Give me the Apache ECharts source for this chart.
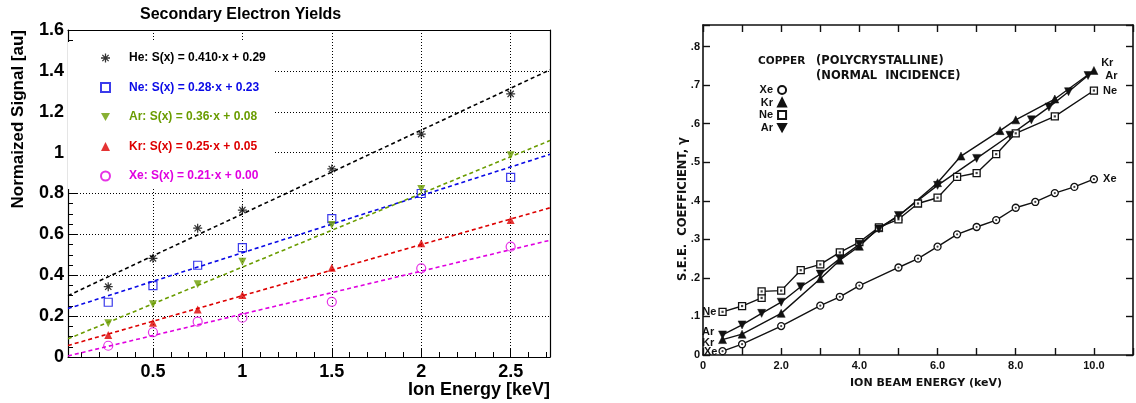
<!DOCTYPE html>
<html><head><meta charset="utf-8">
<script src="https://cdn.jsdelivr.net/npm/echarts@6/dist/echarts.min.js"></script>
<style>html,body{margin:0;padding:0;background:#fff}#c{width:1136px;height:403px}</style>
</head><body><div id="c"></div>
<script>
// ---------- Left panel data ----------
const gasNames = ['He', 'Ne', 'Ar', 'Kr', 'Xe'];
const fitText = [
  'He: S(x) = 0.410·x + 0.29',
  'Ne: S(x) = 0.28·x + 0.23',
  'Ar: S(x) = 0.36·x + 0.08',
  'Kr: S(x) = 0.25·x + 0.05',
  'Xe: S(x) = 0.21·x + 0.00'
];
const fitSlope = [0.410, 0.28, 0.36, 0.25, 0.21];
const fitIntercept = [0.29, 0.23, 0.08, 0.05, 0.00];
const ionEnergy = [0.25, 0.5, 0.75, 1, 1.5, 2, 2.5];
const heSignal = [0.344, 0.483, 0.630, 0.719, 0.920, 1.091, 1.287];
const neSignal = [0.268, 0.349, 0.449, 0.535, 0.677, 0.800, 0.879];
const arSignal = [0.165, 0.258, 0.356, 0.466, 0.646, 0.822, 0.987];
const krSignal = [0.108, 0.168, 0.233, 0.303, 0.437, 0.556, 0.670];
const xeSignal = [0.055, 0.121, 0.173, 0.192, 0.270, 0.434, 0.540];
const leftXMajorTicks = [0.5, 1, 1.5, 2, 2.5];
const leftXMinorTicks = [0.1, 0.2, 0.3, 0.4, 0.6, 0.7, 0.8, 0.9, 1.1, 1.2, 1.3, 1.4, 1.6, 1.7, 1.8, 1.9, 2.1, 2.2, 2.3, 2.4, 2.6, 2.7];

// ---------- Right panel data ----------
const xeEnergy = [0.5, 1.0, 2.0, 3.0, 3.5, 4.0, 5.0, 5.5, 6.0, 6.5, 7.0, 7.5, 8.0, 8.5, 9.0, 9.5, 10.0];
const xeYield  = [0.010, 0.028, 0.075, 0.128, 0.151, 0.180, 0.227, 0.250, 0.281, 0.313, 0.332, 0.350, 0.382, 0.397, 0.420, 0.436, 0.456];
const krEnergy = [0.5, 1.0, 2.0, 3.0, 3.5, 4.0, 4.5, 5.0, 6.0, 6.6, 7.6, 8.0, 9.0, 10.0];
const krYield  = [0.040, 0.054, 0.108, 0.198, 0.246, 0.282, 0.330, 0.360, 0.447, 0.516, 0.582, 0.610, 0.664, 0.738];
const neEnergy = [0.5, 1.0, 1.5, 1.5, 2.0, 2.5, 3.0, 3.5, 4.0, 4.5, 5.0, 5.5, 6.0, 6.5, 7.0, 7.5, 8.0, 9.0, 10.0];
const neYield  = [0.112, 0.127, 0.148, 0.165, 0.167, 0.220, 0.235, 0.266, 0.293, 0.331, 0.352, 0.393, 0.408, 0.462, 0.472, 0.521, 0.575, 0.619, 0.686];
const arEnergy = [0.5, 1.0, 1.5, 2.0, 2.5, 3.0, 3.5, 4.0, 4.5, 5.0, 6.0, 7.0, 7.85, 8.4, 8.85, 9.35, 9.85];
const arYield  = [0.052, 0.078, 0.108, 0.137, 0.177, 0.210, 0.250, 0.287, 0.327, 0.362, 0.440, 0.510, 0.570, 0.610, 0.643, 0.683, 0.725];

// ---------- styles ----------
const gasColors = ['#000000', '#0a0ae6', '#6a9c00', '#dd0000', '#e000e0'];
const starPath = 'path://M-1.4,-10L1.4,-10L1.4,10L-1.4,10Z M-10,-1.4L10,-1.4L10,1.4L-10,1.4Z M-8,-6L-6,-8L8,6L6,8Z M-8,6L6,-8L8,-6L-6,8Z';
const downTri = 'path://M0,0L10,0L5,9Z';
const leftSymbols = [starPath, 'rect', downTri, 'triangle', 'circle'];
const leftSizes = [9, 8, 8, 8, 9];
const leftHollow = [false, true, false, false, true];
const signals = [heSignal, neSignal, arSignal, krSignal, xeSignal];
const xMin = 0.025, xMax = 2.72;

const LF = 'Liberation Sans';
const RF = 'bold 11.5px "DejaVu Sans"';
const series = [];
gasNames.forEach((g, i) => {
  series.push({
    name: g + ' fit', type: 'line', xAxisIndex: 0, yAxisIndex: 0,
    data: [[xMin, fitSlope[i] * xMin + fitIntercept[i]], [xMax, fitSlope[i] * xMax + fitIntercept[i]]],
    showSymbol: false, silent: true, z: 2,
    lineStyle: { color: gasColors[i], width: 1.6, type: [4, 3] }
  });
});
gasNames.forEach((g, i) => {
  series.push({
    name: fitText[i], type: 'scatter', xAxisIndex: 0, yAxisIndex: 0, z: 3,
    symbol: leftSymbols[i], symbolSize: leftSizes[i],
    itemStyle: leftHollow[i]
      ? { color: 'rgba(0,0,0,0)', borderColor: gasColors[i], borderWidth: 1.2 }
      : { color: gasColors[i] },
    data: ionEnergy.map((x, j) => [x, signals[i][j]])
  });
});

const rightSets = [
  { name: 'Xe', e: xeEnergy, y: xeYield, symbol: 'circle', size: 7, hollow: true,
    first: { offset: [0, 1], distance: 1 }, last: { offset: [0, 0], distance: 5 } },
  { name: 'Kr', e: krEnergy, y: krYield, symbol: 'triangle', size: 8, hollow: false,
    first: { offset: [0, 3], distance: 4 }, last: { offset: [0, -8], distance: 3 } },
  { name: 'Ne', e: neEnergy, y: neYield, symbol: 'rect', size: 7, hollow: true,
    first: { offset: [0, 0], distance: 2 }, last: { offset: [0, 0], distance: 5 } },
  { name: 'Ar', e: arEnergy, y: arYield, symbol: downTri, size: 8, hollow: false,
    first: { offset: [0, -3], distance: 4 }, last: { offset: [0, 0], distance: 13 } }
];
rightSets.forEach(s => {
  const n = s.e.length;
  series.push({
    name: s.name, type: 'line', xAxisIndex: 3, yAxisIndex: 2, z: 3,
    symbol: s.symbol, symbolSize: s.size, showAllSymbol: true,
    lineStyle: { color: '#111', width: 1.4 },
    itemStyle: s.hollow ? { color: '#fff', borderColor: '#111', borderWidth: 1.3 } : { color: '#111', borderColor: '#111', borderWidth: 0.5 },
    data: s.e.map((e, j) => {
      const item = { value: [e, s.y[j]] };
      if (j === 0 || j === n - 1) {
        const c = j === 0 ? s.first : s.last;
        item.label = {
          show: true, formatter: s.name, position: j === 0 ? 'left' : 'right',
          distance: c.distance, offset: c.offset,
          fontFamily: LF, fontWeight: 'bold', fontSize: 11, color: '#111'
        };
      }
      return item;
    })
  });
  if (s.hollow) {
    // centre dot drawn inside the hollow markers
    series.push({
      name: s.name + ' dot', type: 'scatter', xAxisIndex: 3, yAxisIndex: 2, z: 4, silent: true,
      symbol: s.symbol, symbolSize: 2.2, itemStyle: { color: '#111' },
      data: s.e.map((e, j) => [e, s.y[j]])
    });
  }
});

const dotted = { show: true, lineStyle: { color: '#000', type: [1, 2], width: 1 } };
const rightTickLbl = { fontFamily: LF, fontWeight: 'bold', fontSize: 11, color: '#111' };

const option = {
  animation: false,
  backgroundColor: '#fff',
  grid: [
    { left: 68, top: 30, width: 482, height: 327 },
    { left: 703, top: 25, width: 431, height: 330 }
  ],
  xAxis: [
    { type: 'value', gridIndex: 0, min: xMin, max: xMax, position: 'bottom',
      axisLine: { show: true, onZero: false, lineStyle: { color: '#000', width: 1.2 } },
      axisTick: { show: true, inside: true, length: 9, customValues: leftXMajorTicks, lineStyle: { color: '#000' } },
      axisLabel: { show: true, customValues: leftXMajorTicks, margin: 6, fontFamily: LF, fontWeight: 'bold', fontSize: 18, color: '#000' },
      splitLine: dotted },
    { type: 'value', gridIndex: 0, min: xMin, max: xMax, position: 'bottom',
      axisLine: { show: false },
      axisTick: { show: true, inside: true, length: 5, customValues: leftXMinorTicks, lineStyle: { color: '#000' } },
      axisLabel: { show: false }, splitLine: { show: false } },
    { type: 'value', gridIndex: 0, min: xMin, max: xMax, position: 'top',
      axisLine: { show: true, onZero: false, lineStyle: { color: '#000', width: 1.2 } },
      axisTick: { show: false }, axisLabel: { show: false }, splitLine: { show: false } },
    { type: 'value', gridIndex: 1, min: 0, max: 11, interval: 1, position: 'bottom',
      axisLine: { show: true, onZero: false, lineStyle: { color: '#111', width: 1.6 } },
      axisTick: { show: true, inside: true, length: 7, lineStyle: { color: '#111', width: 1.4 } },
      axisLabel: Object.assign({ margin: 5,
        formatter: v => (Math.abs(v % 2) < 1e-6 ? (v === 0 ? '0' : v.toFixed(1)) : '') }, rightTickLbl),
      splitLine: { show: false } },
    { type: 'value', gridIndex: 1, min: 0, max: 11, interval: 1, position: 'top',
      axisLine: { show: true, onZero: false, lineStyle: { color: '#111', width: 1.6 } },
      axisTick: { show: true, inside: true, length: 7, lineStyle: { color: '#111', width: 1.4 } },
      axisLabel: { show: false }, splitLine: { show: false } }
  ],
  yAxis: [
    { type: 'value', gridIndex: 0, min: 0, max: 1.6, interval: 0.2, position: 'left',
      axisLine: { show: true, onZero: false, lineStyle: { color: '#000', width: 1.2 } },
      axisTick: { show: true, inside: true, length: 10, lineStyle: { color: '#000' } },
      minorTick: { show: true, splitNumber: 4, length: 5, lineStyle: { color: '#000' } },
      axisLabel: { margin: 4, fontFamily: LF, fontWeight: 'bold', fontSize: 18, color: '#000' },
      splitLine: dotted },
    { type: 'value', gridIndex: 0, min: 0, max: 1.6, position: 'right',
      axisLine: { show: true, onZero: false, lineStyle: { color: '#000', width: 1.2 } },
      axisTick: { show: false }, axisLabel: { show: false }, splitLine: { show: false } },
    { type: 'value', gridIndex: 1, min: 0, max: 0.856, interval: 0.1, position: 'left',
      axisLine: { show: true, onZero: false, lineStyle: { color: '#111', width: 1.6 } },
      axisTick: { show: true, inside: true, length: 7, lineStyle: { color: '#111', width: 1.4 } },
      axisLabel: Object.assign({ margin: 3,
        formatter: v => {
          const k = Math.round(v * 10);
          if (Math.abs(v * 10 - k) > 1e-6) return '';
          return k === 0 ? '0' : '.' + k;
        } }, rightTickLbl),
      splitLine: { show: false } },
    { type: 'value', gridIndex: 1, min: 0, max: 0.856, interval: 0.1, position: 'right',
      axisLine: { show: true, onZero: false, lineStyle: { color: '#111', width: 1.6 } },
      axisTick: { show: true, inside: true, length: 7, lineStyle: { color: '#111', width: 1.4 } },
      axisLabel: { show: false }, splitLine: { show: false } }
  ],
  legend: [
    { orient: 'vertical', left: 68, top: 42, selectedMode: false,
      backgroundColor: '#fff', padding: [9, 8, 6, 32],
      itemWidth: 9, itemHeight: 9, itemGap: 15.5,
      data: fitText.map((t, i) => ({ name: t, textStyle: { color: gasColors[i] } })),
      textStyle: { fontFamily: LF, fontWeight: 'bold', fontSize: 12, lineHeight: 14, padding: [0, 0, 0, 14] } },
    { orient: 'vertical', left: 759, top: 84, selectedMode: false, align: 'right',
      padding: 0, itemWidth: 8, itemHeight: 8, itemGap: 0.5,
      data: rightSets.map(s => ({ name: s.name, icon: s.symbol })),
      textStyle: { fontFamily: LF, fontWeight: 'bold', fontSize: 11, lineHeight: 12, color: '#111' } }
  ],
  graphic: [
    { type: 'text', left: 140, top: 7, style: { text: 'Secondary Electron Yields', font: 'bold 16px "Liberation Sans"', fill: '#000' } },
    { type: 'text', x: 18, y: 30, rotation: Math.PI / 2,
      style: { text: 'Normaized Signal [au]', font: 'bold 17px "Liberation Sans"', fill: '#000', textAlign: 'right', textVerticalAlign: 'middle' } },
    { type: 'text', x: 550, y: 390,
      style: { text: 'Ion Energy [keV]', font: 'bold 18px "Liberation Sans"', fill: '#000', textAlign: 'right', textVerticalAlign: 'middle' } },
    { type: 'text', x: 683, y: 209, rotation: Math.PI / 2,
      style: { text: 'S.E.E.  COEFFICIENT, γ', font: RF, fill: '#111', textAlign: 'center', textVerticalAlign: 'middle' } },
    { type: 'text', x: 926, y: 383,
      style: { text: 'ION BEAM ENERGY (keV)', font: 'bold 11px "DejaVu Sans"', fill: '#111', textAlign: 'center', textVerticalAlign: 'middle' } },
    { type: 'text', x: 758, y: 61,
      style: { text: 'COPPER', font: 'bold 10.5px "DejaVu Sans"', fill: '#111', textAlign: 'left', textVerticalAlign: 'middle' } },
    { type: 'text', x: 816, y: 61,
      style: { text: '(POLYCRYSTALLINE)', font: RF, fill: '#111', textAlign: 'left', textVerticalAlign: 'middle' } },
    { type: 'text', x: 816, y: 76,
      style: { text: '(NORMAL  INCIDENCE)', font: RF, fill: '#111', textAlign: 'left', textVerticalAlign: 'middle' } }
  ],
  series: series
};

const chart = echarts.init(document.getElementById('c'), null, { renderer: 'canvas' });
chart.setOption(option);
</script></body></html>
